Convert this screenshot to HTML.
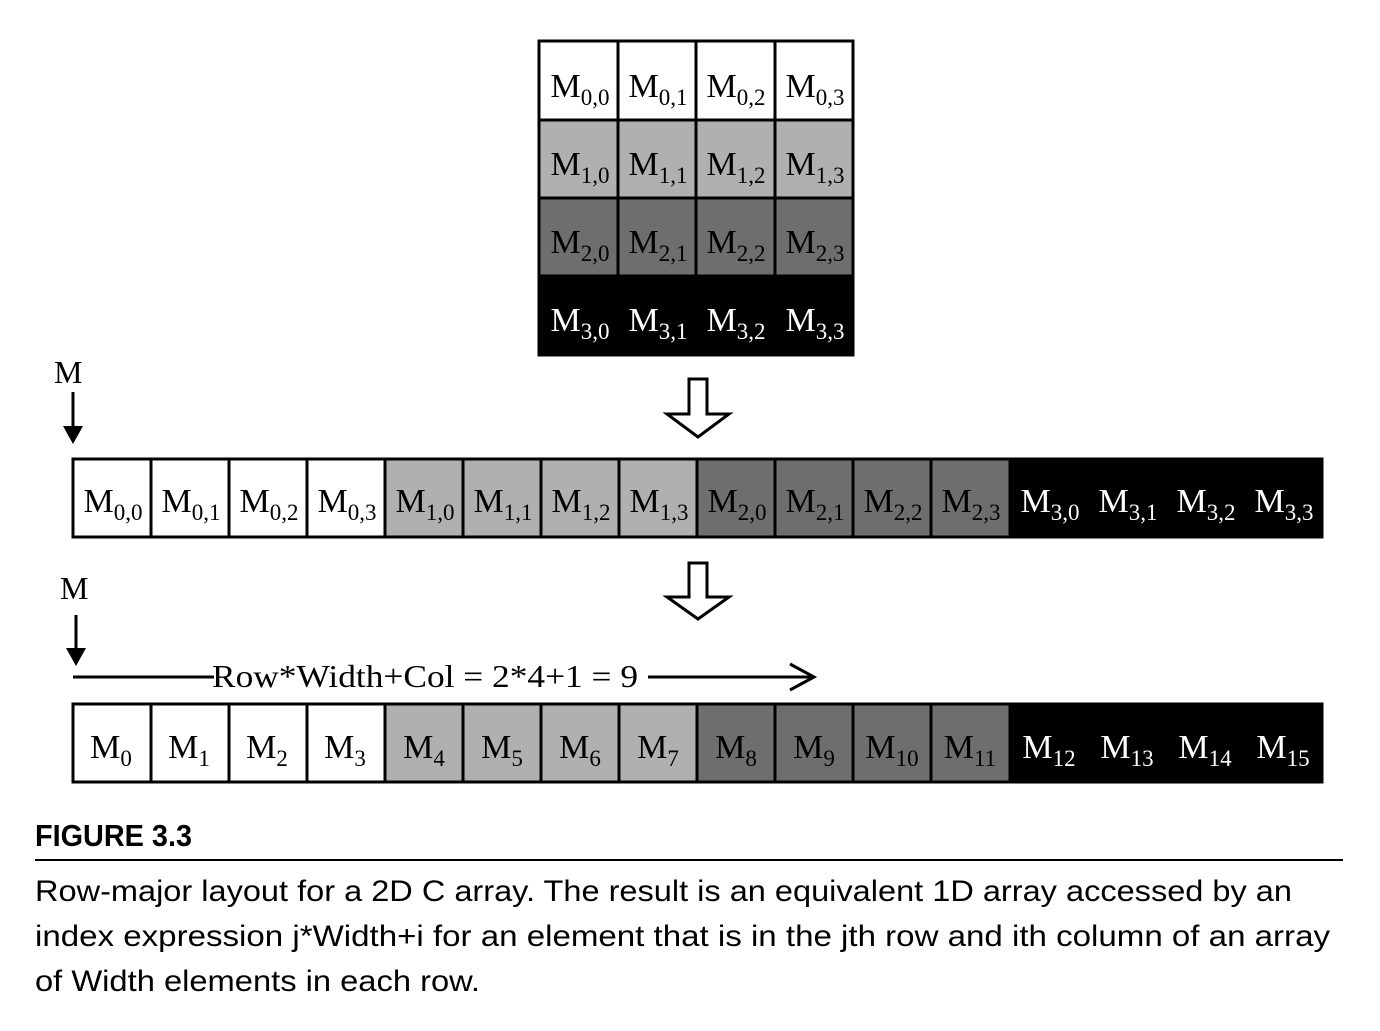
<!DOCTYPE html>
<html><head><style>
body{margin:0;background:#fff}
svg text{font-family:"Liberation Serif",serif;font-size:34px}
.s{font-size:23px}
.cap{font-family:"Liberation Sans",sans-serif}
</style></head><body>
<svg width="1380" height="1026" viewBox="0 0 1380 1026" xmlns="http://www.w3.org/2000/svg">
<g stroke="#000" stroke-width="3">
<rect x="539" y="41" width="314" height="314" fill="#fff"/>
<rect x="539" y="120" width="314" height="78" fill="#b0b0b0"/>
<rect x="539" y="198" width="314" height="78" fill="#6e6e6e"/>
<rect x="539" y="276" width="314" height="79" fill="#000"/>
<line x1="539" y1="120" x2="853" y2="120"/><line x1="539" y1="198" x2="853" y2="198"/>
<line x1="618" y1="41" x2="618" y2="276"/><line x1="696" y1="41" x2="696" y2="276"/><line x1="775" y1="41" x2="775" y2="276"/>
</g>
<g text-anchor="middle">
<text x="580" y="97">M<tspan class="s" dy="8">0,0</tspan></text>
<text x="658" y="97">M<tspan class="s" dy="8">0,1</tspan></text>
<text x="736" y="97">M<tspan class="s" dy="8">0,2</tspan></text>
<text x="815" y="97">M<tspan class="s" dy="8">0,3</tspan></text>
<text x="580" y="175">M<tspan class="s" dy="8">1,0</tspan></text>
<text x="658" y="175">M<tspan class="s" dy="8">1,1</tspan></text>
<text x="736" y="175">M<tspan class="s" dy="8">1,2</tspan></text>
<text x="815" y="175">M<tspan class="s" dy="8">1,3</tspan></text>
<text x="580" y="253">M<tspan class="s" dy="8">2,0</tspan></text>
<text x="658" y="253">M<tspan class="s" dy="8">2,1</tspan></text>
<text x="736" y="253">M<tspan class="s" dy="8">2,2</tspan></text>
<text x="815" y="253">M<tspan class="s" dy="8">2,3</tspan></text>
<g fill="#fff">
<text x="580" y="331">M<tspan class="s" dy="8">3,0</tspan></text>
<text x="658" y="331">M<tspan class="s" dy="8">3,1</tspan></text>
<text x="736" y="331">M<tspan class="s" dy="8">3,2</tspan></text>
<text x="815" y="331">M<tspan class="s" dy="8">3,3</tspan></text>
</g></g>
<g fill="#fff" stroke="#000" stroke-width="3">
<path d="M689 379 H707 V414 H729 L698 437 L667 414 H689 Z"/>
<path d="M689 563 H707 V597 H729 L698 619 L667 597 H689 Z"/>
</g>
<g stroke="#000" stroke-width="3">
<rect x="73" y="459" width="1249" height="78" fill="#fff"/>
<rect x="385" y="459" width="312" height="78" fill="#b0b0b0"/>
<rect x="697" y="459" width="313" height="78" fill="#6e6e6e"/>
<rect x="1010" y="459" width="312" height="78" fill="#000"/>
<rect x="73" y="704" width="1249" height="78" fill="#fff"/>
<rect x="385" y="704" width="312" height="78" fill="#b0b0b0"/>
<rect x="697" y="704" width="313" height="78" fill="#6e6e6e"/>
<rect x="1010" y="704" width="312" height="78" fill="#000"/>
<path d="M151 459V537M229 459V537M307 459V537M463 459V537M541 459V537M619 459V537M775 459V537M853 459V537M931 459V537"/>
<path d="M151 704V782M229 704V782M307 704V782M463 704V782M541 704V782M619 704V782M775 704V782M853 704V782M931 704V782"/>
</g>
<g text-anchor="middle">
<text x="113" y="512">M<tspan class="s" dy="8">0,0</tspan></text>
<text x="191" y="512">M<tspan class="s" dy="8">0,1</tspan></text>
<text x="269" y="512">M<tspan class="s" dy="8">0,2</tspan></text>
<text x="347" y="512">M<tspan class="s" dy="8">0,3</tspan></text>
<text x="425" y="512">M<tspan class="s" dy="8">1,0</tspan></text>
<text x="503" y="512">M<tspan class="s" dy="8">1,1</tspan></text>
<text x="581" y="512">M<tspan class="s" dy="8">1,2</tspan></text>
<text x="659" y="512">M<tspan class="s" dy="8">1,3</tspan></text>
<text x="737" y="512">M<tspan class="s" dy="8">2,0</tspan></text>
<text x="815" y="512">M<tspan class="s" dy="8">2,1</tspan></text>
<text x="893" y="512">M<tspan class="s" dy="8">2,2</tspan></text>
<text x="971" y="512">M<tspan class="s" dy="8">2,3</tspan></text>
<g fill="#fff">
<text x="1050" y="512">M<tspan class="s" dy="8">3,0</tspan></text>
<text x="1128" y="512">M<tspan class="s" dy="8">3,1</tspan></text>
<text x="1206" y="512">M<tspan class="s" dy="8">3,2</tspan></text>
<text x="1284" y="512">M<tspan class="s" dy="8">3,3</tspan></text>
</g>
<text x="111" y="758">M<tspan class="s" dy="8">0</tspan></text>
<text x="189" y="758">M<tspan class="s" dy="8">1</tspan></text>
<text x="267" y="758">M<tspan class="s" dy="8">2</tspan></text>
<text x="345" y="758">M<tspan class="s" dy="8">3</tspan></text>
<text x="424" y="758">M<tspan class="s" dy="8">4</tspan></text>
<text x="502" y="758">M<tspan class="s" dy="8">5</tspan></text>
<text x="580" y="758">M<tspan class="s" dy="8">6</tspan></text>
<text x="658" y="758">M<tspan class="s" dy="8">7</tspan></text>
<text x="736" y="758">M<tspan class="s" dy="8">8</tspan></text>
<text x="814" y="758">M<tspan class="s" dy="8">9</tspan></text>
<text x="892" y="758">M<tspan class="s" dy="8">10</tspan></text>
<text x="970" y="758">M<tspan class="s" dy="8">11</tspan></text>
<g fill="#fff">
<text x="1049" y="758">M<tspan class="s" dy="8">12</tspan></text>
<text x="1127" y="758">M<tspan class="s" dy="8">13</tspan></text>
<text x="1205" y="758">M<tspan class="s" dy="8">14</tspan></text>
<text x="1283" y="758">M<tspan class="s" dy="8">15</tspan></text>
</g></g>
<text x="54" y="383" style="font-size:32px">M</text>
<line x1="73" y1="392" x2="73" y2="428" stroke="#000" stroke-width="3"/>
<path d="M63 426 H83 L73 444 Z"/>
<text x="60" y="599" style="font-size:32px">M</text>
<line x1="76" y1="615" x2="76" y2="650" stroke="#000" stroke-width="3"/>
<path d="M66 648 H86 L76 666 Z"/>
<line x1="73" y1="677" x2="214" y2="677" stroke="#000" stroke-width="3"/>
<text x="212" y="687" style="font-size:32px" textLength="426" lengthAdjust="spacingAndGlyphs">Row*Width+Col = 2*4+1 = 9</text>
<line x1="648" y1="677" x2="814" y2="677" stroke="#000" stroke-width="3"/>
<path d="M790 664 L814 677 L790 690" fill="none" stroke="#000" stroke-width="3"/>
<text class="cap" x="35" y="846" style="font-size:31px;font-weight:bold" textLength="157" lengthAdjust="spacingAndGlyphs">FIGURE 3.3</text>
<line x1="35" y1="860" x2="1343" y2="860" stroke="#000" stroke-width="2"/>
<text class="cap" x="35" y="901" style="font-size:30px" textLength="1257" lengthAdjust="spacingAndGlyphs">Row-major layout for a 2D C array. The result is an equivalent 1D array accessed by an</text>
<text class="cap" x="35" y="946" style="font-size:30px" textLength="1295" lengthAdjust="spacingAndGlyphs">index expression j*Width+i for an element that is in the jth row and ith column of an array</text>
<text class="cap" x="35" y="991" style="font-size:30px" textLength="445" lengthAdjust="spacingAndGlyphs">of Width elements in each row.</text>
</svg>
</body></html>
